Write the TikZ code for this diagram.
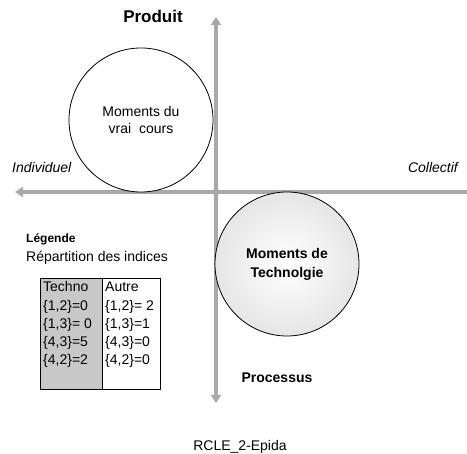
\documentclass[tikz,border=0pt]{standalone}
\usepackage{fontspec}
\setmainfont{Liberation Sans}
\usetikzlibrary{arrows.meta}
\definecolor{gris}{HTML}{A8A8A8}
\definecolor{grisclair}{HTML}{C8C8C8}
\pgfdeclareradialshading{pointille}{\pgfpoint{0bp}{0bp}}{%
  color(0bp)=(white); color(10bp)=(white!96!black); color(40bp)=(white!84!black);
  color(50bp)=(white!84!black)}
\tikzset{
  axe/.style={line width=4pt, draw=gris, {Triangle[width=10pt,length=8pt]}-{Triangle[width=10pt,length=8pt]}},
  moment/.style={circle, draw, line width=0.8pt, minimum size=144pt, inner sep=0pt, align=center,
    font=\fontsize{14}{17.5}\selectfont},
  cellule/.style={draw, line width=0.8pt, inner sep=0pt},
  txt/.style={inner sep=0pt, font=\fontsize{14}{17}\selectfont},
  gras/.style={inner sep=0pt, font=\fontsize{14}{17}\selectfont\bfseries}
}
\begin{document}
\begin{tikzpicture}[x=1pt,y=-1pt]
\useasboundingbox (0,0) rectangle (467,454);
\coordinate (haut) at (216,17);
\coordinate (bas) at (216,403);
\coordinate (gauche) at (15,192);
\coordinate (droite) at (467,192);
\draw[axe] (bas) -- (haut);
\draw[axe, {Triangle[width=10pt,length=8pt]}-] (gauche) -- (droite);
\node[moment, fill=white] (vrai) at (141,120) {Moments du\\vrai\ \ cours};
\node[moment, shading=pointille,
  font=\fontsize{14}{19}\selectfont\bfseries] (techno) at (287,264) {Moments de\\Technolgie};
\node[gras, font=\fontsize{17}{20}\selectfont\bfseries, anchor=base] (produit) at (153,23) {Produit};
\node[gras, anchor=base] (processus) at (277,383) {Processus};
\node[txt, font=\fontsize{14}{17}\selectfont\itshape, anchor=base west] (indiv) at (12,173) {Individuel};
\node[txt, font=\fontsize{14}{17}\selectfont\itshape, anchor=base east] (coll) at (458,173) {Collectif};
\node[gras, font=\fontsize{12}{14}\selectfont\bfseries, anchor=base west] (legende) at (26,243) {Légende};
\node[txt, anchor=base west] (repart) at (26,262) {Répartition des indices};
% tableau
\node[cellule, fill=grisclair, minimum width=62pt, minimum height=111pt] (coltechno) at (71,333.5) {};
\node[cellule, minimum width=58pt, minimum height=111pt] (colautre) at (131,333.5) {};
\draw[line width=1.6pt] (coltechno.north east) -- (coltechno.south east);
\node[txt, anchor=base west] (t0) at (43,292) {Techno};
\node[txt, anchor=base west] (t1) at (43,310.5) {\{1,2\}=0};
\node[txt, anchor=base west] (t2) at (43,328.5) {\{1,3\}= 0};
\node[txt, anchor=base west] (t3) at (43,346.5) {\{4,3\}=5};
\node[txt, anchor=base west] (t4) at (43,364.5) {\{4,2\}=2};
\node[txt, anchor=base west] (a0) at (105,292) {Autre};
\node[txt, anchor=base west] (a1) at (105,310.5) {\{1,2\}= 2};
\node[txt, anchor=base west] (a2) at (105,328.5) {\{1,3\}=1};
\node[txt, anchor=base west] (a3) at (105,346.5) {\{4,3\}=0};
\node[txt, anchor=base west] (a4) at (105,364.5) {\{4,2\}=0};
\node[txt, anchor=base] (source) at (240,451) {RCLE\_2-Epida};
\end{tikzpicture}
\end{document}
